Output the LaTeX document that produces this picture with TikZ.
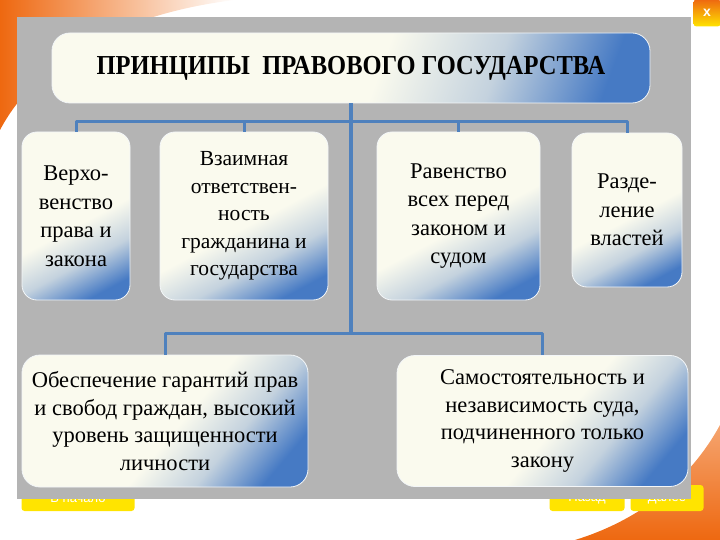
\documentclass[tikz,border=0pt]{standalone}
\usepackage{fontspec}
\setmainfont{Liberation Serif}
\newfontfamily\boxfont{Liberation Serif}
\newfontfamily\btnfont{Liberation Sans}
\definecolor{panelgray}{RGB}{180,180,180}
\definecolor{busblue}{RGB}{79,129,189}
\definecolor{boxcream}{RGB}{250,250,238}
\definecolor{boxmid}{RGB}{196,210,222}
\definecolor{boxblue}{RGB}{70,122,196}
\definecolor{btnyellow}{RGB}{255,228,0}
\definecolor{swoosh}{RGB}{238,104,16}
\pgfdeclarehorizontalshading{boxfill}{100bp}{color(0bp)=(boxcream); color(53bp)=(boxcream); color(65bp)=(boxmid); color(77bp)=(boxblue); color(100bp)=(boxblue)}
\tikzset{
  principle/.style={shade, shading=boxfill, shading angle=-62, rounded corners=15pt,
    draw=white!80!boxmid, line width=0.8pt, align=center, inner sep=2pt,
    font=\boxfont\fontsize{22.5}{28.5}\selectfont},
  bus/.style={busblue, line width=3pt},
  spine/.style={busblue, line width=4.5pt},
  navbtn/.style={fill=btnyellow, rounded corners=3pt, minimum height=26pt,
    text=white, font=\btnfont\fontsize{13}{13}\selectfont}
}
\begin{document}
\begin{tikzpicture}[x=1pt, y=-1pt, line join=round]
	\useasboundingbox (0,0) rectangle (720,540);
	% Фон
	\shade[left color=swoosh, right color=white] (0,0) -- (235,0) .. controls (150,10) and (45,45) .. (0,130) -- cycle;
	\shade[top color=swoosh!60, bottom color=swoosh] (720,425) .. controls (690,480) and (640,520) .. (575,540) -- (720,540) -- cycle;
	\node[navbtn, minimum width=113pt] (start) at (78,498) {В начало};
	\node[navbtn, minimum width=75pt] (back) at (587,498) {Назад};
	\node[navbtn, minimum width=73pt] (next) at (667,498) {Далее};
	\node[top color=swoosh, bottom color=btnyellow, rounded corners=3pt, minimum size=27pt,
		text=white, font=\btnfont\bfseries\fontsize{14}{14}\selectfont] (close) at (707,13) {x};
	\fill[panelgray] (17,17) rectangle (691,499);
	% Заголовок
	\node[principle, shading angle=-20, rounded corners=18pt, minimum width=598pt, minimum height=70pt,
		font=\boxfont\bfseries\fontsize{24.5}{28}\selectfont] (title) at (351,68) {\scalebox{1}[1.12]{ПРИНЦИПЫ\ \ ПРАВОВОГО ГОСУДАРСТВА}};
	% Принципы
	\node[principle, minimum width=108pt, minimum height=168pt] (verh) at (76,216) {Верхо-\\венство\\права и\\закона};
	\node[principle, minimum width=168pt, minimum height=168pt, font=\boxfont\fontsize{21.5}{27.5}\selectfont] (vzaim) at (244,216) {Взаимная\\ответствен-\\ность\\гражданина и\\государства};
	\node[principle, minimum width=163pt, minimum height=168pt] (raven) at (458.5,216) {Равенство\\всех перед\\законом и\\судом};
	\node[principle, minimum width=110pt, minimum height=154pt] (razd) at (627,210) {Разде-\\ление\\властей};
	\node[principle, shading angle=-40, rounded corners=18pt, minimum width=286pt, minimum height=132pt, font=\boxfont\fontsize{22.5}{27.5}\selectfont] (obesp) at (165,421) {Обеспечение гарантий прав\\и свобод граждан, высокий\\уровень защищенности\\личности};
	\node[principle, shading angle=-40, rounded corners=18pt, minimum width=291pt, minimum height=131pt, font=\boxfont\fontsize{22.5}{27.5}\selectfont] (samost) at (542.5,421) {Самостоятельность и\\независимость суда,\\подчиненного только\\закону};
	% Связи
	\coordinate (topbus) at (351,122);
	\coordinate (lowbus) at (351,333);
	\draw[bus] (verh) |- (topbus) -| (razd);
	\foreach \p in {vzaim, raven}
	\draw[bus] (\p) |- (topbus);
	\draw[bus] (obesp) |- (lowbus) -| (samost);
	\draw[spine] (title) -- (lowbus);
\end{tikzpicture}
\end{document}
